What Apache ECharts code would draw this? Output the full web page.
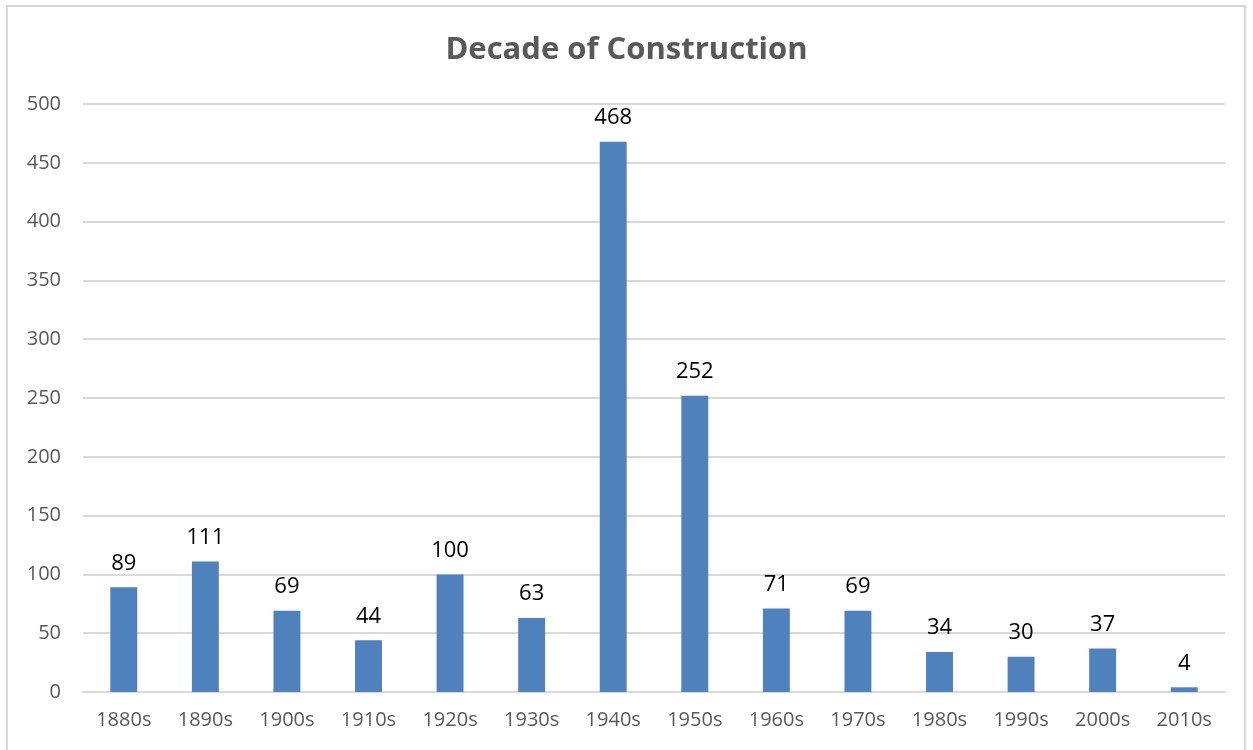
<!DOCTYPE html>
<html>
<head>
<meta charset="utf-8">
<script src="https://cdn.jsdelivr.net/npm/echarts@6/dist/echarts.min.js"></script>
<style>
  body { margin: 0; background: #fff; }
  #frame { position: absolute; left: 6px; top: 5px; width: 1240px; height: 760px; border: 2px solid #d9d9d9; box-sizing: border-box; }
  #main { position: absolute; left: 0; top: 0; width: 1253px; height: 750px; }
</style>
</head>
<body>
<div id="frame"></div>
<div id="main"></div>
<script>
var decades = ['1880s', '1890s', '1900s', '1910s', '1920s', '1930s', '1940s', '1950s', '1960s', '1970s', '1980s', '1990s', '2000s', '2010s'];
var counts = [89, 111, 69, 44, 100, 63, 468, 252, 71, 69, 34, 30, 37, 4];

var myChart = echarts.init(document.getElementById('main'));
var font = '"Open Sans", "Noto Sans", sans-serif';
var option = {
  animation: false,
  title: {
    text: 'Decade of Construction',
    left: 'center',
    top: 30,
    textStyle: { fontFamily: font, fontSize: 31, fontWeight: 'bold', color: '#595959' }
  },
  grid: { left: 83, right: 28, top: 104, bottom: 58 },
  xAxis: {
    type: 'category',
    data: decades,
    axisLine: { lineStyle: { color: '#d9d9d9', width: 2 } },
    axisTick: { show: false },
    axisLabel: { color: '#595959', fontSize: 20, fontFamily: font, margin: 18 }
  },
  yAxis: {
    type: 'value',
    min: 0,
    max: 500,
    interval: 50,
    axisLine: { show: false },
    axisTick: { show: false },
    axisLabel: { color: '#595959', fontSize: 20, fontFamily: font, margin: 22 },
    splitLine: { lineStyle: { color: '#d9d9d9', width: 2 } }
  },
  series: [
    {
      name: 'Decade of Construction',
      type: 'bar',
      data: counts,
      barWidth: '33%',
      itemStyle: { color: '#4f81bd' },
      label: { show: true, position: 'top', distance: 13, color: '#000', fontSize: 22, fontFamily: font }
    }
  ]
};
myChart.setOption(option);
</script>
</body>
</html>
